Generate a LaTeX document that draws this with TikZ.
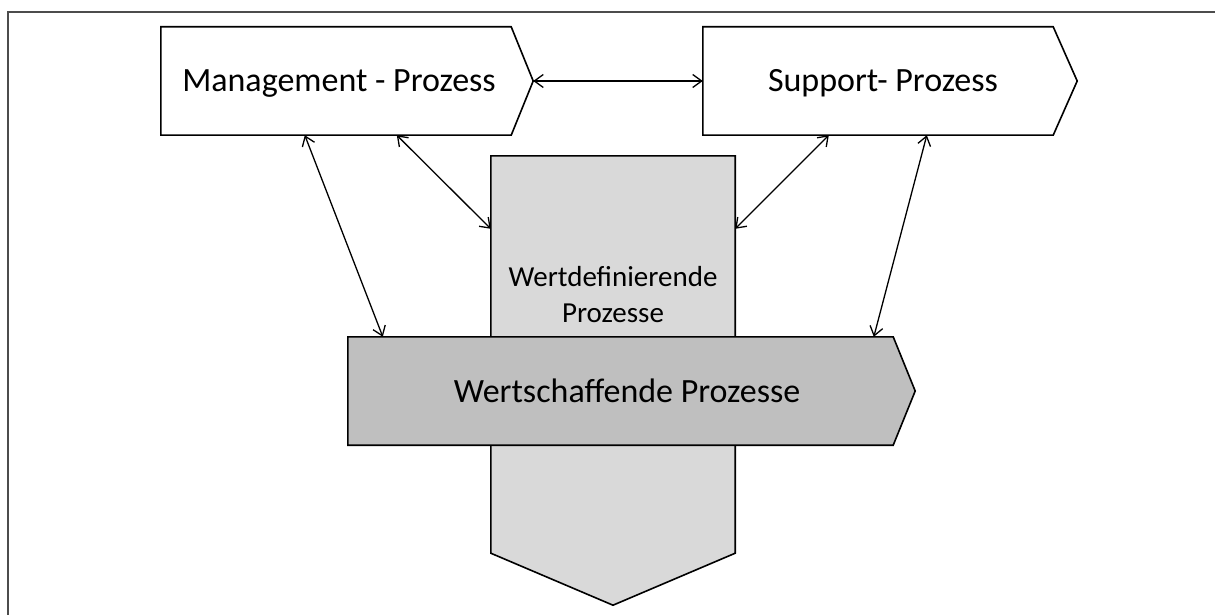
\documentclass[tikz,border=0pt]{standalone}
\usepackage{fontspec}
\setmainfont{Carlito}
\usetikzlibrary{arrows.meta,calc}
\begin{document}
\begin{tikzpicture}[x=1pt,y=-1pt,
  body/.style={draw=none,inner sep=0pt,minimum height=108pt},
  outline/.style={draw=black,line width=1.6pt,line join=miter},
  biglabel/.style={font=\fontsize{34}{40}\selectfont,inner sep=0pt,anchor=base},
  smalllabel/.style={font=\fontsize{29}{36}\selectfont,inner sep=0pt,align=center,anchor=base},
  conn/.style={line width=1.3pt,{Straight Barb[length=9pt,width=13pt]}-{Straight Barb[length=9pt,width=13pt]}}]
\useasboundingbox (0,0) rectangle (1215,615);
% outer frame
\draw[black!70,line width=2.4pt] (8,615) -- (8,12) -- (1215,12);

% bodies of the process blocks
\node[body,minimum width=350pt] (mgmt) at (336,81) {};
\node[body,minimum width=350pt] (sup) at (878,81) {};
\node[body,minimum width=244pt,minimum height=397pt] (wd) at (613,354.5) {};
\node[body,minimum width=545pt] (ws) at (620.5,391) {};

% management and support: white chevrons
\draw[outline,fill=white] (mgmt.north west) -- (mgmt.north east) -- ($(mgmt.east)+(22,0)$)
  -- (mgmt.south east) -- (mgmt.south west) -- cycle;
\draw[outline,fill=white] (sup.north west) -- (sup.north east) -- ($(sup.east)+(24,0)$)
  -- (sup.south east) -- (sup.south west) -- cycle;

% value-defining processes: light grey, pointing down
\draw[outline,fill=black!15] (wd.north west) -- (wd.north east) -- (wd.south east)
  -- ($(wd.south)+(0,52)$) -- (wd.south west) -- cycle;

% value-creating processes: darker grey, pointing right
\draw[outline,fill=black!25] (ws.north west) -- (ws.north east) -- ($(ws.east)+(22,0)$)
  -- (ws.south east) -- (ws.south west) -- cycle;

% labels (two-line label is anchored on its last baseline)
\node[biglabel] (mgmtlabel) at (339,92) {Management - Prozess};
\node[biglabel] (suplabel) at (883,92) {Support- Prozess};
\node[smalllabel] (wdlabel) at (613,322) {Wertdefinierende\\Prozesse};
\node[biglabel] (wslabel) at (627,402) {Wertschaffende Prozesse};

% interactions
\draw[conn] ($(mgmt.east)+(22,0)$) -- (sup.west);
\draw[conn] ([xshift=144pt]mgmt.south west) -- ([xshift=35pt]ws.north west);
\draw[conn] ([xshift=236pt]mgmt.south west) -- ([yshift=-73pt]wd.north west);
\draw[conn] ([xshift=126pt]sup.south west) -- ([yshift=-73pt]wd.north east);
\draw[conn] ([xshift=224pt]sup.south west) -- ([xshift=526pt]ws.north west);
\end{tikzpicture}
\end{document}
